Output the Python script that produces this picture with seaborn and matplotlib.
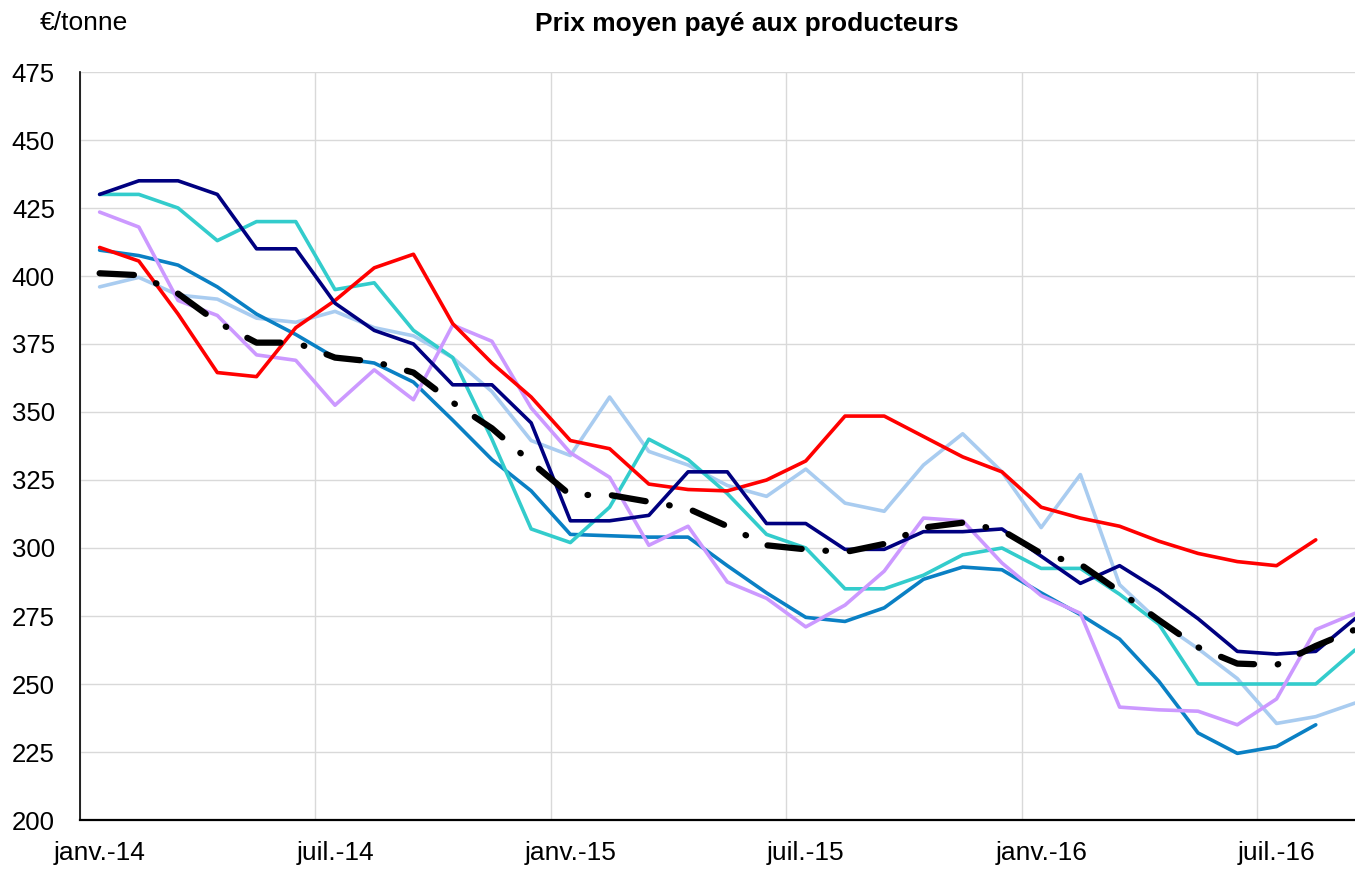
import numpy as np
import pandas as pd
import matplotlib
matplotlib.use("Agg")
import matplotlib.pyplot as plt
import seaborn as sns

# monthly series, janv.-14 .. sept.-16
months = pd.date_range("2014-01-01", "2016-09-01", freq="MS")
tick_labels = ["janv.-14", "juil.-14", "janv.-15", "juil.-15", "janv.-16", "juil.-16"]

navy = [430, 435, 435, 430, 410, 410, 390, 380, 375, 360, 360, 346, 310, 310, 312, 328, 328,
        309, 309, 299.5, 299.5, 306, 306, 307, 297, 287, 293.5, 284.5, 274, 262, 261, 262, 274]
cyan = [430, 430, 425, 413, 420, 420, 395, 397.5, 380, 370, 340, 307, 302, 315, 340, 332.5, 320,
        305, 300, 285, 285, 290, 297.5, 300, 292.5, 292.5, 283, 272, 250, 250, 250, 250, 262.5]
blue = [409.5, 407.5, 404, 396, 386, 378.5, 370, 368, 361, 347, 332.5, 321, 305, 304.5, 304, 304,
        293.5, 283.5, 274.5, 273, 278, 288.5, 293, 292, 283.5, 275.5, 266.5, 251, 232, 224.5, 227,
        235, np.nan]
red = [410.5, 405.5, 386, 364.5, 363, 381, 391, 403, 408, 382.5, 368, 355.5, 339.5, 336.5, 323.5,
       321.5, 321, 325, 332, 348.5, 348.5, 341, 333.5, 328, 315, 311, 308, 302.5, 298, 295, 293.5,
       303, np.nan]
lightblue = [396, 399.5, 393, 391.5, 384.5, 383, 387, 381, 378, 370, 357.5, 339.5, 334, 355.5,
             335.5, 330.5, 323, 319, 329, 316.5, 313.5, 330.5, 342, 328, 307.5, 327, 286.5, 273,
             263, 252, 235.5, 238, 243]
purple = [423.5, 418, 391, 385.5, 371, 369, 352.5, 365.5, 354.5, 382, 376, 351.5, 335, 326, 301,
          308, 287.5, 281.5, 271, 279, 291.5, 311, 310, 294.5, 282.5, 276, 241.5, 240.5, 240, 235,
          244.5, 270, 276]
average = [401, 400.3, 393.5, 383, 375.5, 375.5, 370, 368.5, 364.5, 353.5, 344, 331.5, 319.5,
           319.5, 317, 314.5, 308, 301, 299.5, 298.5, 301.5, 307.5, 309.3, 306.5, 298, 294, 284,
           273.5, 263.5, 257.5, 257, 264, 270]

series = {
    "s1": lightblue,
    "s2": blue,
    "s3": cyan,
    "s4": purple,
    "s5": red,
    "s6": navy,
}
palette = {
    "s1": "#A9CCF0",
    "s2": "#0A80C4",
    "s3": "#33CCCC",
    "s4": "#CC99FF",
    "s5": "#FF0000",
    "s6": "#000080",
}

idx = np.arange(len(months))
df = pd.concat(
    [pd.DataFrame({"m": idx, "prix": vals, "serie": name}) for name, vals in series.items()],
    ignore_index=True,
)
df_avg = pd.DataFrame({"m": idx, "prix": average})

sns.set_style("white")
plt.rcParams["font.family"] = ["Liberation Sans", "DejaVu Sans"]
plt.rcParams["text.color"] = "black"
plt.rcParams["xtick.color"] = "black"
plt.rcParams["ytick.color"] = "black"

fig = plt.figure(figsize=(13.55, 8.69), dpi=100)
ax = fig.add_axes([80 / 1355, 49 / 869, 1275 / 1355, 748 / 869])

sns.lineplot(data=df, x="m", y="prix", hue="serie", palette=palette, estimator=None,
             sort=False, linewidth=2.6, legend=False, ax=ax)
sns.lineplot(data=df_avg, x="m", y="prix", color="black", estimator=None, linewidth=4.5,
             legend=False, ax=ax)
avg_line = ax.get_lines()[-1]
avg_line.set_dashes([5.5, 3.8, 0.1, 3.8])
avg_line.set_dash_capstyle("round")
avg_line.set_solid_capstyle("round")

# axes
ax.set_xlim(-0.5, 32)
ax.set_ylim(200, 475)
ax.set_yticks(np.arange(200, 476, 25))
ax.set_xticks(np.arange(0, 32, 6))
ax.set_xticklabels(tick_labels)
ax.set_xticks(np.arange(-0.5, 32, 6), minor=True)
ax.tick_params(axis="x", which="major", length=0, pad=15, labelsize=19, labelcolor="black")
ax.tick_params(axis="x", which="minor", length=6, width=1, color="#404040", direction="out")
ax.tick_params(axis="y", length=6, width=1, color="#909090", pad=12, labelsize=18.5,
               labelcolor="black", direction="out")
ax.set_xlabel("")
ax.set_ylabel("")

ax.grid(axis="y", color="#D9D9D9", linewidth=1)
ax.grid(axis="x", which="minor", color="#D9D9D9", linewidth=1)
ax.grid(axis="x", which="major", visible=False)
ax.set_axisbelow(True)

for side in ["top", "right"]:
    ax.spines[side].set_visible(False)
ax.spines["left"].set_color("black")
ax.spines["left"].set_linewidth(1.2)
ax.spines["bottom"].set_color("black")
ax.spines["bottom"].set_linewidth(1.6)

fig.text(747 / 1355, 1 - 24 / 869, "Prix moyen payé aux producteurs", ha="center",
         va="center", fontsize=19, fontweight="bold", color="black")
fig.text(40 / 1355, 1 - 23 / 869, "€/tonne", ha="left", va="center", fontsize=19,
         color="black")

plt.savefig("out.png", dpi=100)
plt.close()
